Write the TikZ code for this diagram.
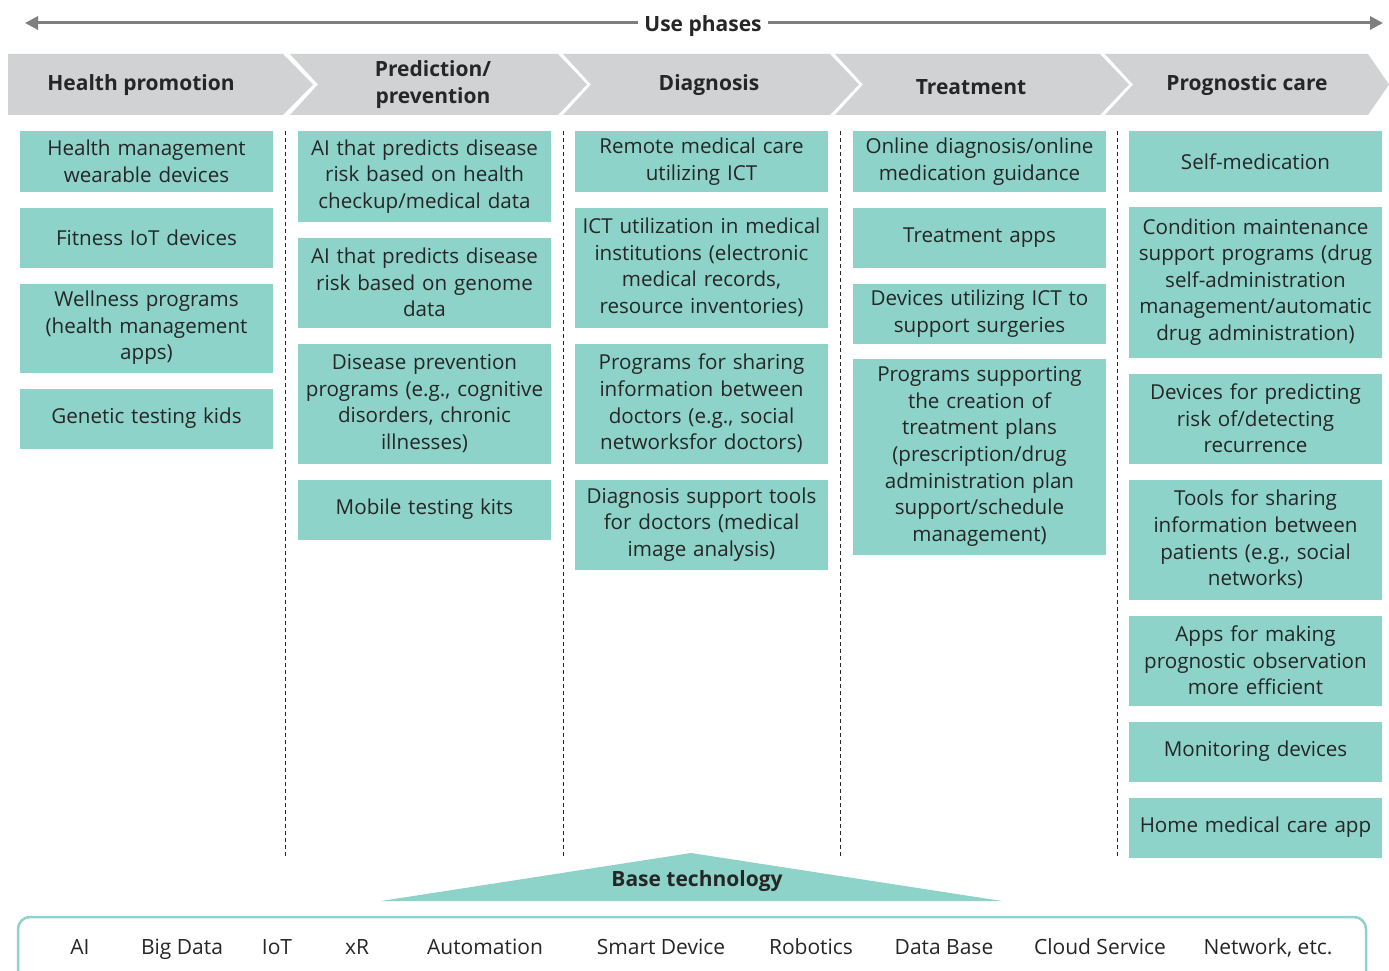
\documentclass[tikz,border=0pt]{standalone}
\usepackage{fontspec}
\setmainfont{Open Sans}
\usetikzlibrary{arrows.meta}
\definecolor{teal1}{HTML}{8DD3C9}
\definecolor{chev}{HTML}{D1D2D4}
\definecolor{txt}{HTML}{262626}
\definecolor{arr}{HTML}{7F7F7F}
\tikzset{
  box/.style={fill=teal1, text=txt, minimum width=253pt, text width=252pt, inner sep=0pt, align=center, font=\fontsize{20.6}{26.6}\selectfont},
  head/.style={text=txt, align=center, font=\fontsize{21}{27}\selectfont\bfseries},
  chevron/.style={fill=chev, draw=none},
  sep/.style={draw=txt, line width=0.9pt, dash pattern=on 4pt off 3pt},
  tech/.style={text=txt, anchor=base, inner sep=0pt, font=\fontsize{21}{24}\selectfont},
}
\newcommand{\bx}[5]{\node[box, minimum height=#4pt] (#1) at (#2,#3) {#5};}
\begin{document}
\begin{tikzpicture}[x=1pt,y=-1pt]
\useasboundingbox (0,0) rectangle (1389,971);
% top arrow
\coordinate (aL) at (25,23);
\coordinate (aR) at (1383,23);
\draw[arr, line width=3pt, {Triangle[length=13pt,width=13pt]}-{Triangle[length=13pt,width=13pt]}] (aL) -- (aR);
\node[head, fill=white, inner xsep=6pt] (use) at (703,26) {Use phases};
% chevrons
\fill[chevron] (8,54) -- (283,54) -- (313,84.5) -- (283,115) -- (8,115) -- cycle;
\fill[chevron] (290,54) -- (558,54) -- (587,84.5) -- (558,115) -- (290,115) -- (318,84.5) -- cycle;
\fill[chevron] (563,54) -- (830,54) -- (859,84.5) -- (830,115) -- (563,115) -- (591,84.5) -- cycle;
\fill[chevron] (835,54) -- (1100,54) -- (1129,84.5) -- (1100,115) -- (835,115) -- (863,84.5) -- cycle;
\fill[chevron] (1105,54) -- (1368,54) -- (1389,84.5) -- (1368,115) -- (1105,115) -- (1133,84.5) -- cycle;
\node[head] (h1) at (141,85) {Health promotion};
\node[head] (h2) at (433,85) {Prediction/\\prevention};
\node[head] (h3) at (709,85) {Diagnosis};
\node[head] (h4) at (971,87) {Treatment};
\node[head] (h5) at (1247,85) {Prognostic care};
% separators
\foreach \x/\n in {285/1,563/2,840/3,1117/4}{
  \coordinate (s\n t) at (\x,131);
  \coordinate (s\n b) at (\x,857);
  \draw[sep] (s\n t) -- (s\n b);
}
% column 1
\bx{c1a}{146.5}{161.5}{60}{Health management\\wearable devices}
\bx{c1b}{146.5}{237.5}{60}{Fitness IoT devices}
\bx{c1c}{146.5}{328}{89}{Wellness programs\\(health management\\apps)}
\bx{c1d}{146.5}{418.5}{60}{Genetic testing kids}
% column 2
\bx{c2a}{424.5}{176.5}{90}{AI that predicts disease\\risk based on health\\checkup/medical data}
\bx{c2b}{424.5}{282.5}{90}{AI that predicts disease\\risk based on genome\\data}
\bx{c2c}{424.5}{403.5}{120}{Disease prevention\\programs (e.g., cognitive\\disorders, chronic\\illnesses)}
\bx{c2d}{424.5}{509.5}{60}{Mobile testing kits}
% column 3
\bx{c3a}{701.5}{161.5}{60}{Remote medical care\\utilizing ICT}
\bx{c3b}{701.5}{267.5}{120}{ICT utilization in medical\\institutions (electronic\\medical records,\\resource inventories)}
\bx{c3c}{701.5}{403.5}{120}{Programs for sharing\\information between\\doctors (e.g., social\\networksfor doctors)}
\bx{c3d}{701.5}{524.5}{90}{Diagnosis support tools\\for doctors (medical\\image analysis)}
% column 4
\bx{c4a}{979.5}{161.5}{60}{Online diagnosis/online\\medication guidance}
\bx{c4b}{979.5}{237.5}{60}{Treatment apps}
\bx{c4c}{979.5}{313.5}{60}{Devices utilizing ICT to\\support surgeries}
\bx{c4d}{979.5}{456.5}{196}{Programs supporting\\the creation of\\treatment plans\\(prescription/drug\\administration plan\\support/schedule\\management)}
% column 5
\bx{c5a}{1255.5}{161.5}{60}{Self-medication}
\bx{c5b}{1255.5}{282}{151}{Condition maintenance\\support programs (drug\\self-administration\\management/automatic\\drug administration)}
\bx{c5c}{1255.5}{418.5}{90}{Devices for predicting\\risk of/detecting\\recurrence}
\bx{c5d}{1255.5}{539.5}{120}{Tools for sharing\\information between\\patients (e.g., social\\networks)}
\bx{c5e}{1255.5}{660.5}{90}{Apps for making\\prognostic observation\\more efficient}
\bx{c5f}{1255.5}{751.5}{60}{Monitoring devices}
\bx{c5g}{1255.5}{827.5}{60}{Home medical care app}
% base technology
\fill[teal1] (381,901) -- (691,853) -- (1002,901) -- cycle;
\node[head] (base) at (697,881) {Base technology};
\draw[teal1, line width=2.5pt, rounded corners=12pt] (18,917) rectangle (1366,1000);
\foreach \x/\t/\n in {80/AI/t1,182/Big Data/t2,277/IoT/t3,357/xR/t4,485/Automation/t5,661/Smart Device/t6,811/Robotics/t7,944/Data Base/t8,1100/Cloud Service/t9,1268/{Network, etc.}/t10}{
  \node[tech] (\n) at (\x,954.5) {\t};
}
\end{tikzpicture}
\end{document}
